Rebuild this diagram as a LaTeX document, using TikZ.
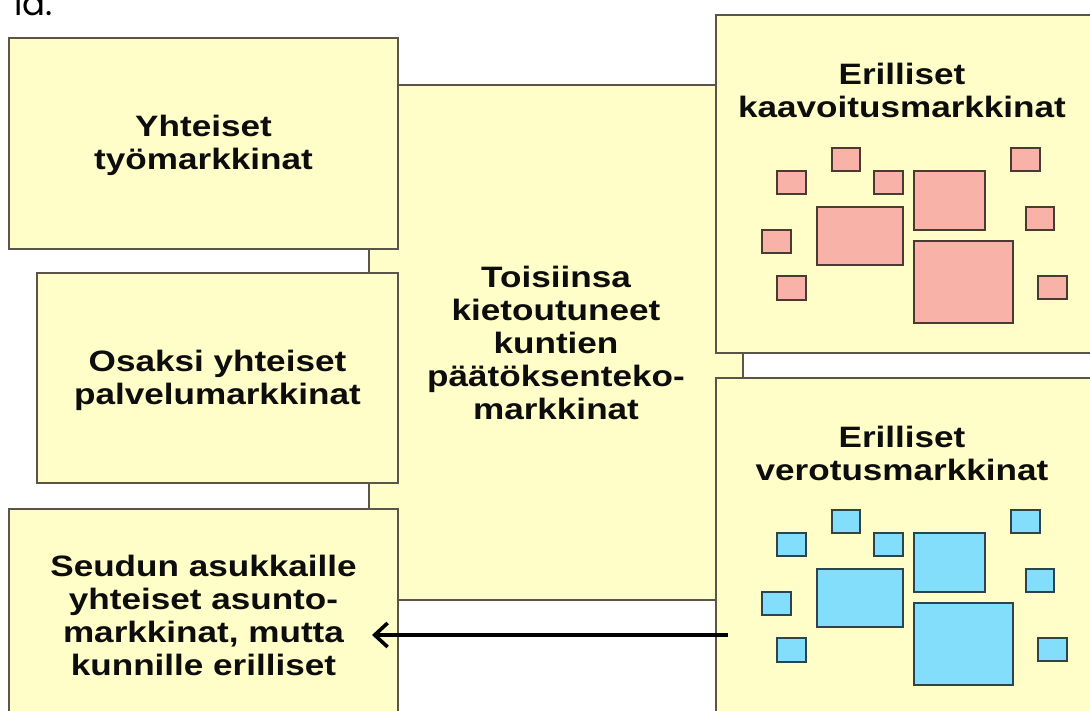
\documentclass[tikz,border=0pt]{standalone}
\usepackage{fontspec}
\usetikzlibrary{arrows.meta}
\newfontfamily\labfont[FakeStretch=1.19]{Liberation Sans}
\newfontfamily\topfont{Poppins}
\definecolor{boxfill}{HTML}{FFFDC8}
\definecolor{boxline}{HTML}{5A5548}
\definecolor{pinkfill}{HTML}{F9B2A8}
\definecolor{pinkline}{HTML}{4A3A32}
\definecolor{bluefill}{HTML}{82DEFA}
\definecolor{blueline}{HTML}{2C4450}
\tikzset{
  mbox/.style={draw=boxline, fill=boxfill, line width=2pt, rectangle, inner sep=0pt, anchor=north west},
  lab/.style={align=center, font=\labfont\bfseries\fontsize{29.5}{33}\selectfont, text=black!95, inner sep=0pt},
  psq/.style={draw=pinkline, fill=pinkfill, line width=2.2pt},
  bsq/.style={draw=blueline, fill=bluefill, line width=2.2pt},
  arr/.style={line width=4pt, -{Straight Barb[length=13pt,width=24pt,line width=3.6pt]}},
}
\newcommand\sqlist{832/148/860/171, 1011/148/1040/171, 777/171/806/194, 874/171/903/194, 914/171/985/230, 1026/207/1054/230, 817/207/903/265, 762/230/791/253, 914/241/1013/323, 777/276/806/300, 1038/276/1067/299}
\begin{document}
\begin{tikzpicture}[x=1pt,y=-1pt]
\useasboundingbox (0,0) rectangle (1090,710);
\clip (0,0) rectangle (1090,710);
\fill[white] (0,0) rectangle (1090,710);
\node[anchor=base west, font=\topfont\fontsize{34}{40}\selectfont, inner sep=0pt] (tl) at (14,15) {la.};
% centre box
\node[mbox, minimum width=374pt, minimum height=515pt] (cb) at (368,84) {};
\node[lab] (ct) at (cb.center) {Toisiinsa\\kietoutuneet\\kuntien\\päätöksenteko-\\markkinat};
% left boxes
\node[mbox, minimum width=389pt, minimum height=211pt] (b1) at (8,37) {};
\node[lab] (t1) at ([yshift=-2pt]b1.center) {Yhteiset\\työmarkkinat};
\node[mbox, minimum width=361pt, minimum height=210pt] (b2) at (36,272) {};
\node[lab] (t2) at ([yshift=-2pt]b2.center) {Osaksi yhteiset\\palvelumarkkinat};
\node[mbox, minimum width=389pt, minimum height=212pt] (b3) at (8,508) {};
\node[lab] (t3) at (b3.center) {Seudun asukkaille\\yhteiset asunto-\\markkinat, mutta\\kunnille erilliset};
% right boxes
\node[mbox, minimum width=380pt, minimum height=338pt] (rt) at (715,14) {};
\node[lab] (rtt) at (902,90) {Erilliset\\kaavoitusmarkkinat};
\node[mbox, minimum width=380pt, minimum height=345pt] (rb) at (715,377) {};
\node[lab] (rbt) at (902,453) {Erilliset\\verotusmarkkinat};
% squares
\foreach \a/\b/\c/\d in \sqlist {
  \draw[psq] (\a,\b) rectangle (\c,\d);
  \draw[bsq] (\a,\b+362) rectangle (\c,\d+362);
}
% arrow
\coordinate (as) at (728,635);
\coordinate (ae) at (372,635);
\draw[arr] (as) -- (ae);
\end{tikzpicture}
\end{document}
